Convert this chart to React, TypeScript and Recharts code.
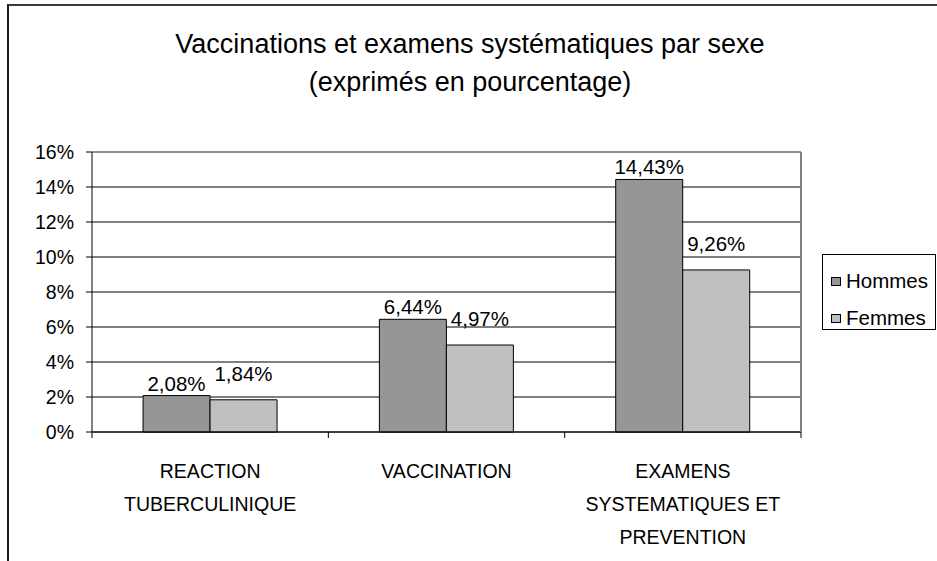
import { BarChart, Bar, XAxis, YAxis, CartesianGrid, ReferenceLine, LabelList } from 'recharts';

// Categories (line breaks as in the original axis labels)
const CATEGORIES = [
  'REACTION\nTUBERCULINIQUE',
  'VACCINATION',
  'EXAMENS\nSYSTEMATIQUES ET\nPREVENTION',
];
const HOMMES = [2.08, 6.44, 14.43];
const FEMMES = [1.84, 4.97, 9.26];
const Y_TICKS = [0, 2, 4, 6, 8, 10, 12, 14, 16];
const SERIES = [
  { key: 'hommes', name: 'Hommes', color: '#969696' },
  { key: 'femmes', name: 'Femmes', color: '#c0c0c0' },
];
const TITLE = ['Vaccinations et examens systématiques par sexe', '(exprimés en pourcentage)'];

const W = 937;
const H = 561;
const PLOT_LEFT = 92;
const PLOT_RIGHT = 801;
const PLOT_TOP = 152;
const PLOT_BOTTOM = 432;
const FONT = '"Liberation Sans", Arial, sans-serif';

const data = CATEGORIES.map((category, i) => ({
  category,
  hommes: HOMMES[i],
  femmes: FEMMES[i],
}));

const pct = (v: number) => `${v.toFixed(2).replace('.', ',')}%`;

const halfBand = (PLOT_RIGHT - PLOT_LEFT) / CATEGORIES.length / 2;

const CategoryTick = ({ x, y, payload, index }: any) => {
  const lines = String(payload.value).split('\n');
  const last = (payload.index ?? index) === CATEGORIES.length - 1;
  return (
    <g>
      <line x1={x - halfBand} x2={x - halfBand} y1={y} y2={y + 6} stroke="#000" />
      {last && <line x1={x + halfBand} x2={x + halfBand} y1={y} y2={y + 6} stroke="#000" />}
      <text x={x} y={y} textAnchor="middle" fontSize={19.5} fill="#000" fontFamily={FONT}>
        {lines.map((l, i) => (
          <tspan key={i} x={x} y={y + 46 + i * 33}>
            {l}
          </tspan>
        ))}
      </text>
    </g>
  );
};

export default function App() {
  return (
    <div
      style={{
        position: 'absolute',
        left: 0,
        top: 0,
        width: W,
        height: H,
        overflow: 'hidden',
        background: '#fff',
        fontFamily: FONT,
      }}
    >
      {/* outer chart frame, cut by the window on right/bottom */}
      <div
        style={{
          position: 'absolute',
          left: 7,
          top: 4,
          width: 1000,
          height: 700,
          borderLeft: '2px solid #1a1a1a',
          borderTop: '2px solid #3a3a3a',
        }}
      />

      {/* title */}
      <div
        style={{
          position: 'absolute',
          left: 0,
          top: 25,
          width: 940,
          textAlign: 'center',
          fontSize: 27,
          lineHeight: '38px',
          color: '#000',
        }}
      >
        {TITLE.map((t) => (
          <div key={t}>{t}</div>
        ))}
      </div>

      <div style={{ position: 'absolute', left: 0, top: 0 }}>
        <BarChart
          width={W}
          height={H}
          data={data}
          margin={{ top: PLOT_TOP, right: W - PLOT_RIGHT - 1, left: 0, bottom: 0 }}
          barCategoryGap="21.6%"
          barGap={0}
        >
          <CartesianGrid yAxisId="left" vertical={false} stroke="#000" />
          <XAxis
            dataKey="category"
            interval={0}
            height={H - PLOT_BOTTOM}
            tickLine={false}
            tickSize={0}
            tickMargin={0}
            axisLine={{ stroke: '#000' }}
            tick={<CategoryTick />}
          />
          <YAxis
            yAxisId="left"
            width={PLOT_LEFT}
            domain={[0, 16]}
            ticks={Y_TICKS}
            interval={0}
            tickSize={6}
            tickMargin={12}
            tickFormatter={(v) => `${v}%`}
            tick={{ fill: '#000', fontSize: 19.5, fontFamily: FONT }}
            tickLine={{ stroke: '#000' }}
            axisLine={{ stroke: '#000' }}
          />
          <YAxis
            yAxisId="right"
            orientation="right"
            width={1}
            domain={[0, 16]}
            tick={false}
            tickLine={false}
            axisLine={{ stroke: '#808080', strokeWidth: 2 }}
          />
          <ReferenceLine yAxisId="left" y={16} stroke="#909090" strokeWidth={2} />
          <Bar
            yAxisId="left"
            dataKey="hommes"
            name="Hommes"
            fill={SERIES[0].color}
            stroke="#000"
            strokeWidth={1}
            isAnimationActive={false}
          >
            <LabelList
              dataKey="hommes"
              position="top"
              offset={5}
              formatter={(v: any) => pct(Number(v))}
              fill="#000"
              fontSize={20.5}
              fontFamily={FONT}
            />
          </Bar>
          <Bar
            yAxisId="left"
            dataKey="femmes"
            name="Femmes"
            fill={SERIES[1].color}
            stroke="#000"
            strokeWidth={1}
            isAnimationActive={false}
          >
            <LabelList
              dataKey="femmes"
              position="top"
              offset={19}
              formatter={(v: any) => pct(Number(v))}
              fill="#000"
              fontSize={20.5}
              fontFamily={FONT}
            />
          </Bar>
        </BarChart>
      </div>

      {/* legend */}
      <div
        style={{
          position: 'absolute',
          left: 822,
          top: 254,
          width: 114,
          height: 76,
          boxSizing: 'border-box',
          border: '1px solid #000',
          fontSize: 20.5,
          color: '#000',
        }}
      >
        {SERIES.map((s, i) => (
          <div
            key={s.key}
            style={{
              position: 'absolute',
              left: 8,
              top: 13 + i * 37,
              height: 26,
              display: 'flex',
              alignItems: 'center',
              whiteSpace: 'nowrap',
            }}
          >
            <span
              style={{
                display: 'inline-block',
                width: 10,
                height: 9,
                boxSizing: 'border-box',
                border: '1px solid #000',
                background: s.color,
                marginRight: 5,
              }}
            />
            {s.name}
          </div>
        ))}
      </div>
    </div>
  );
}
